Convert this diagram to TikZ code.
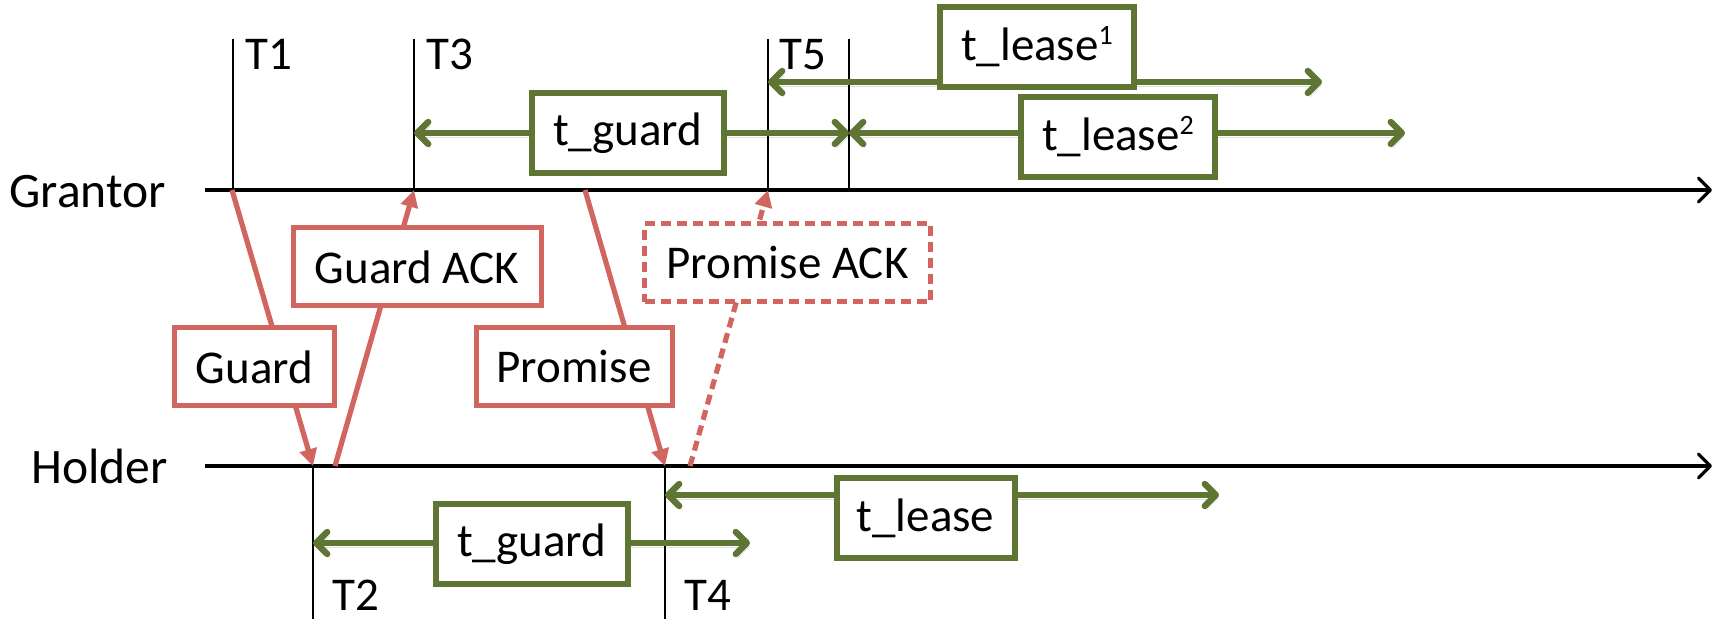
\documentclass[tikz,border=0pt]{standalone}
\usepackage{fontspec}
\setmainfont{Carlito}
\usetikzlibrary{arrows.meta}
\definecolor{msgred}{RGB}{209,102,96}
\definecolor{spangreen}{RGB}{95,117,52}
% small raised index, top aligned with the ascenders
\newcommand{\leaseidx}[1]{\raisebox{0.34em}{\fontsize{14}{14}\selectfont #1}}
\begin{document}
\begin{tikzpicture}[x=0.5pt,y=-0.5pt,
  font=\fontsize{23.5}{28}\selectfont,
  barb/.tip={Straight Barb[length=5.5pt,width=11pt,line cap=round,line join=round]},
  timeline/.style={line width=1.6pt,-{Straight Barb[length=6pt,width=12pt,line cap=round,line join=round]}},
  tick/.style={line width=1.1pt},
  msg/.style={draw=msgred,line width=2.6pt,-{Triangle[length=8.5pt,width=8.5pt]}},
  msgbox/.style={draw=msgred,line width=2.5pt,fill=white,inner sep=0pt,minimum height=39pt},
  span/.style={draw=spangreen,line width=3.2pt,line cap=round,barb-barb,
    preaction={draw=black,draw opacity=0.12,transform canvas={shift={(1pt,-2pt)}}}},
  spanbox/.style={draw=spangreen,line width=3pt,fill=white,inner sep=0pt,minimum height=40pt},
  lbl/.style={anchor=base west,inner sep=0pt},
  party/.style={lbl,font=\fontsize{24.8}{28}\selectfont},
]
\useasboundingbox (0,0) rectangle (1727,619);

% process time lines
\coordinate (g0) at (205,190);  \coordinate (g1) at (1712,190);
\coordinate (h0) at (205,466);  \coordinate (h1) at (1712,466);
\draw[timeline] (g0) -- (g1);
\draw[timeline] (h0) -- (h1);
\node[party] (grantor) at (9,208) {Grantor};
\node[party] (holder) at (31,483) {Holder};

% instants on the grantor side
\coordinate (t1top) at (233,39);  \coordinate (t1) at (233,190);
\coordinate (t3top) at (414,39);  \coordinate (t3) at (414,190);
\coordinate (t5top) at (768,39);  \coordinate (t5) at (768,190);
\coordinate (t6top) at (849,39);  \coordinate (t6) at (849,190);
\draw[tick] (t1top) -- (t1);
\draw[tick] (t3top) -- (t3);
\draw[tick] (t5top) -- (t5);
\draw[tick] (t6top) -- (t6);
\node[lbl] (T1) at (245,70) {T1};
\node[lbl] (T3) at (426,70) {T3};
\node[lbl] (T5) at (779,70) {T5};

% instants on the holder side
\coordinate (t2) at (313,466);  \coordinate (t2bot) at (313,619);
\coordinate (t4) at (665,466);  \coordinate (t4bot) at (665,619);
\draw[tick] (t2) -- (t2bot);
\draw[tick] (t4) -- (t4bot);
\node[lbl] (T2) at (332,610) {T2};
\node[lbl] (T4) at (684,610) {T4};

% messages
\coordinate (guardS) at (232,190);
\coordinate (gackS) at (335,466);
\coordinate (promS) at (585,190);
\coordinate (packS) at (690,466);
\draw[msg] (guardS) -- (t2);
\draw[msg] (gackS) -- (t3);
\draw[msg] (promS) -- (t4);
\draw[msg,dash pattern=on 5pt off 3pt] (packS) -- (t5);

\node[msgbox,minimum width=80pt] (guard) at (254.5,367) {Guard};
\node[msgbox,minimum width=124pt] (gack) at (417,267) {Guard ACK};
\node[msgbox,minimum width=98pt] (prom) at (574,367) {Promise};
\node[msgbox,minimum width=143pt,dash pattern=on 5pt off 3pt] (pack) at (787.5,263) {Promise ACK};

% timer spans
\coordinate (lease1end) at (1322,82);
\coordinate (lease1start) at (768,82);
\coordinate (guardAa) at (414,133);
\coordinate (guardAb) at (849,133);
\coordinate (lease2end) at (1405,133);
\coordinate (guardBa) at (313,543);
\coordinate (guardBb) at (750,543);
\coordinate (leaseBa) at (665,495);
\coordinate (leaseBb) at (1219,495);
\draw[span] (guardAa) -- (guardAb);
\draw[span] (lease1start) -- (lease1end);
\draw[span] (guardAb) -- (lease2end);
\draw[span] (guardBa) -- (guardBb);
\draw[span] (leaseBa) -- (leaseBb);

\node[spanbox,minimum width=96pt] (tguardA) at (627.5,133) {t\_guard};
\node[spanbox,minimum width=97pt] (tlease1) at (1037,47) {t\_lease\leaseidx{1}};
\node[spanbox,minimum width=97pt] (tlease2) at (1118,137) {t\_lease\leaseidx{2}};
\node[spanbox,minimum width=96pt] (tguardB) at (531.5,544) {t\_guard};
\node[spanbox,minimum width=89pt] (tleaseB) at (925.5,518) {t\_lease};
\end{tikzpicture}
\end{document}
